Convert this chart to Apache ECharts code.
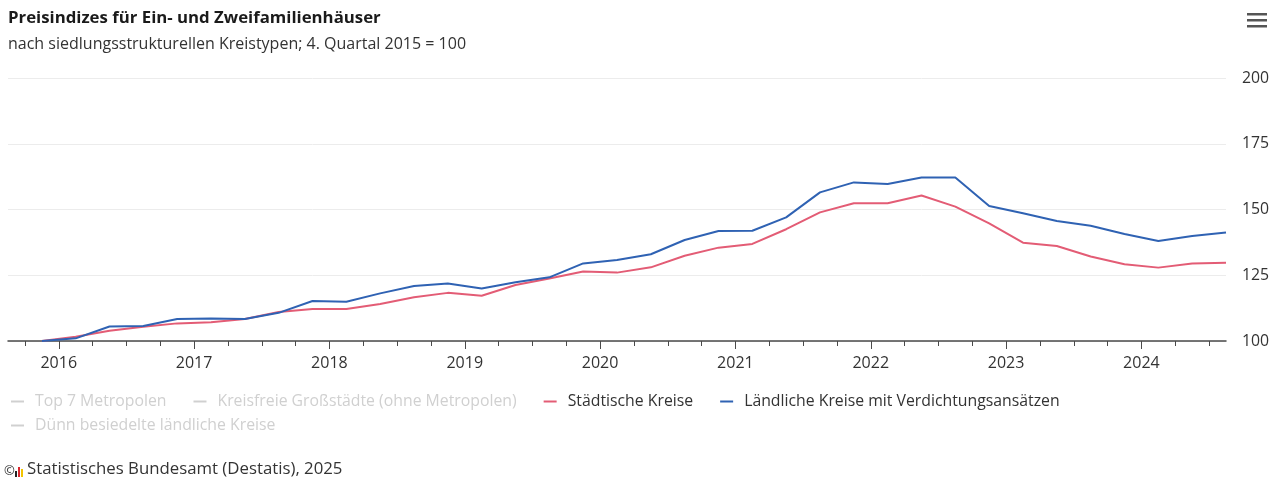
<!DOCTYPE html>
<html>
<head>
<meta charset="utf-8">
<script src="https://cdn.jsdelivr.net/npm/echarts@6/dist/echarts.min.js"></script>
<style>
html,body{margin:0;padding:0;background:#fff;}
#c{width:1287px;height:481px;}
</style>
</head>
<body>
<div id="c"></div>
<script>
// Quarters (Q4 2015 – Q3 2024)
const quarters = ['2015-Q4',
  '2016-Q1','2016-Q2','2016-Q3','2016-Q4',
  '2017-Q1','2017-Q2','2017-Q3','2017-Q4',
  '2018-Q1','2018-Q2','2018-Q3','2018-Q4',
  '2019-Q1','2019-Q2','2019-Q3','2019-Q4',
  '2020-Q1','2020-Q2','2020-Q3','2020-Q4',
  '2021-Q1','2021-Q2','2021-Q3','2021-Q4',
  '2022-Q1','2022-Q2','2022-Q3','2022-Q4',
  '2023-Q1','2023-Q2','2023-Q3','2023-Q4',
  '2024-Q1','2024-Q2','2024-Q3'];

const staedtischeKreise = [100,
  101.6,103.9,105.4,106.7,
  107.1,108.4,111.0,112.2,
  112.2,114.1,116.6,118.3,
  117.2,121.3,123.8,126.4,
  126.0,128.0,132.4,135.5,
  136.9,142.5,148.9,152.4,
  152.4,155.3,151.1,144.7,
  137.4,136.1,132.1,129.2,
  127.9,129.5,129.8];

const laendlicheKreise = [100,
  101.0,105.5,105.7,108.4,
  108.6,108.4,110.7,115.2,
  114.9,118.1,120.9,121.9,
  120.0,122.3,124.2,129.5,
  130.8,133.0,138.4,141.8,
  141.9,147.0,156.5,160.3,
  159.7,162.2,162.2,151.3,
  148.6,145.6,143.8,140.7,
  138.0,139.9,141.3];

const seriesNames = ['Top 7 Metropolen','Kreisfreie Großstädte (ohne Metropolen)','Städtische Kreise','Ländliche Kreise mit Verdichtungsansätzen','Dünn besiedelte ländliche Kreise'];
const yearTicks = [2016,2017,2018,2019,2020,2021,2022,2023,2024];
const yTicks = [100,125,150,175,200];

const titleText = 'Preisindizes für Ein- und Zweifamilienhäuser';
const subtitleText = 'nach siedlungsstrukturellen Kreistypen; 4. Quartal 2015 = 100';
const sourceText = 'Statistisches Bundesamt (Destatis), 2025';

// helpers
function qToX(q){ const y = +q.slice(0,4); const n = +q.slice(6); return y + (n*3 - 1.5)/12; }
const xs = quarters.map(qToX);
const xMin = xs[0] - 0.25, xMax = xs[xs.length-1];
const quarterTicks = [];
for (let y = Math.floor(xMin); y <= Math.ceil(xMax); y++) for (let k=1;k<4;k++){ const v=y+k/4; if(v>xMin && v<=xMax) quarterTicks.push(v); }
const pair = arr => arr.map((v,i)=>[xs[i], v]);

const FONT = 'Open Sans';
const chart = echarts.init(document.getElementById('c'), null, {renderer:'canvas'});
chart.setOption({
  animation:false,
  textStyle:{fontFamily:FONT},
  title:{
    left:8, top:10, padding:0, text:titleText, subtext:subtitleText, itemGap:9,
    textStyle:{fontFamily:FONT,fontSize:16.8,fontWeight:'bold',color:'#1a1a1a'},
    subtextStyle:{fontFamily:FONT,fontSize:16,color:'#333'}
  },
  grid:{left:8,right:61,top:78,bottom:140,containLabel:false},
  legend:{
    left:11, top:393, width:1100, orient:'horizontal', padding:0,
    data:seriesNames,
    selected:{'Top 7 Metropolen':false,'Kreisfreie Großstädte (ohne Metropolen)':false,'Dünn besiedelte ländliche Kreise':false},
    icon:'rect', itemWidth:13, itemHeight:2, itemGap:7,
    inactiveColor:'#d0d0d0',
    textStyle:{fontFamily:FONT,fontSize:15.8,color:'#333',padding:[0,20,0,6],lineHeight:17}
  },
  xAxis:[{
    type:'value', min:xMin, max:xMax, position:'bottom',
    axisLine:{show:true,lineStyle:{color:'#4a4a4a',width:1.5}},
    axisTick:{show:true,customValues:quarterTicks,length:5,lineStyle:{color:'#4a4a4a'}},
    axisLabel:{show:false}, splitLine:{show:false}
  },{
    type:'value', min:xMin, max:xMax, position:'bottom', offset:0,
    axisLine:{show:false},
    axisTick:{show:true,customValues:yearTicks,length:8,lineStyle:{color:'#4a4a4a'}},
    axisLabel:{show:true,customValues:yearTicks,formatter:v=>String(Math.round(v)),fontFamily:FONT,fontSize:16,color:'#333',margin:14},
    splitLine:{show:false}
  }],
  yAxis:{
    type:'value', position:'right', min:yTicks[0], max:yTicks[yTicks.length-1], interval:25,
    axisLine:{show:false}, axisTick:{show:false},
    axisLabel:{fontFamily:FONT,fontSize:15.8,color:'#333',margin:16},
    splitLine:{lineStyle:{color:'#ececec',width:1}}
  },
  series:[
    {name:seriesNames[0],type:'line',data:[],color:'#999',showSymbol:false},
    {name:seriesNames[1],type:'line',data:[],color:'#999',showSymbol:false},
    {name:seriesNames[2],type:'line',data:pair(staedtischeKreise),color:'#e35c75',showSymbol:false,lineStyle:{width:2,color:'#e35c75'},z:3},
    {name:seriesNames[3],type:'line',data:pair(laendlicheKreise),color:'#2f62b3',showSymbol:false,lineStyle:{width:2,color:'#2f62b3'},z:4},
    {name:seriesNames[4],type:'line',data:[],color:'#999',showSymbol:false}
  ],
  graphic:[
    {type:'rect',left:1247,top:13,shape:{width:20,height:2.5},style:{fill:'#555'}},
    {type:'rect',left:1247,top:19,shape:{width:20,height:2.5},style:{fill:'#555'}},
    {type:'rect',left:1247,top:25,shape:{width:20,height:2.5},style:{fill:'#555'}},
    {type:'text',left:4,top:465,style:{text:'©',fontFamily:FONT,fontSize:13,fill:'#333'}},
    {type:'rect',left:15,top:471,shape:{width:2,height:6},style:{fill:'#222'}},
    {type:'rect',left:18,top:467,shape:{width:2,height:10},style:{fill:'#d9262e'}},
    {type:'rect',left:21,top:469,shape:{width:2,height:8},style:{fill:'#f2c400'}},
    {type:'text',left:27,top:461,style:{text:sourceText,fontFamily:FONT,fontSize:16.8,fill:'#333'}}
  ]
});
</script>
</body>
</html>
